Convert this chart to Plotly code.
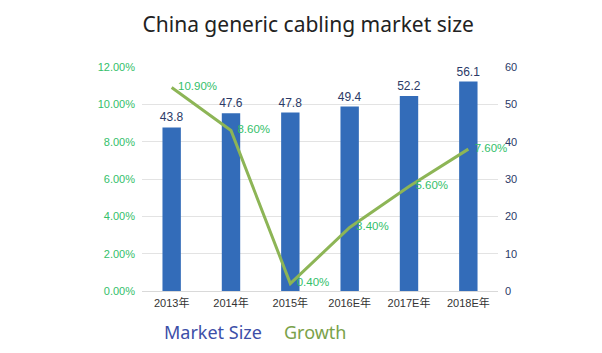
import plotly.graph_objects as go

categories = ["2013年", "2014年", "2015年", "2016E年", "2017E年", "2018E年"]
market_size = [43.8, 47.6, 47.8, 49.4, 52.2, 56.1]
growth = [10.9, 8.6, 0.4, 3.4, 5.6, 7.6]
growth_labels = ["10.90%", "8.60%", "0.40%", "3.40%", "5.60%", "7.60%"]
left_ticks = [0, 2, 4, 6, 8, 10, 12]
left_tick_text = ["0.00%", "2.00%", "4.00%", "6.00%", "8.00%", "10.00%", "12.00%"]
right_ticks = [0, 10, 20, 30, 40, 50, 60]

font_base = "Liberation Sans, Arial, Noto Sans CJK SC, sans-serif"
font_title = "Noto Sans, Open Sans, sans-serif"

fig = go.Figure()
# bars on the base (right-side) axis
fig.add_trace(go.Bar(
    x=categories, y=market_size, yaxis="y",
    marker=dict(color="#336cb9", line=dict(width=0)),
    width=0.31,
    text=[f"{v:.1f}" for v in market_size], textposition="outside",
    constraintext="none",
    textfont=dict(color="#2b3a67", size=12, family=font_base),
    cliponaxis=False, showlegend=False,
))
# growth line on overlaying (left-side) axis, drawn above bars
fig.add_trace(go.Scatter(
    x=categories, y=growth, yaxis="y2", mode="lines+text",
    line=dict(color="#8db556", width=3),
    text=["\u00a0\u00a0" + t for t in growth_labels], textposition="middle right",
    textfont=dict(color="#33c06a", size=11.5, family=font_base),
    cliponaxis=False, showlegend=False,
))

pl, pr, pt, pb = 142, 104, 67, 62
pw, ph = 602 - pl - pr, 353 - pt - pb

def px_ann(text, x, y, color):
    return dict(text=text, xref="paper", yref="paper",
                x=(x - pl) / pw, y=(353 - pb - y) / ph,
                xanchor="left", yanchor="middle", showarrow=False,
                font=dict(size=18, color=color, family=font_title))

fig.update_layout(
    width=602, height=353,
    margin=dict(l=pl, r=pr, t=pt, b=pb),
    paper_bgcolor="white", plot_bgcolor="white",
    title=dict(text="China generic cabling market size", x=0.512, xanchor="center",
               y=0.93, yanchor="middle",
               font=dict(size=21, color="#222222", family=font_title)),
    xaxis=dict(type="category", showgrid=False,
               tickfont=dict(size=11, color="#333333", family=font_base),
               showline=True, linecolor="#d9d9d9", ticks="", ticklabelstandoff=2),
    yaxis=dict(range=[0, 60], tickvals=right_ticks, side="right",
               tickfont=dict(size=11, color="#2b3a67", family=font_base),
               showgrid=True, gridcolor="#e3e3e3", zeroline=False, ticklabelstandoff=6),
    yaxis2=dict(range=[0, 12], tickvals=left_ticks, ticktext=left_tick_text,
                overlaying="y", side="left",
                tickfont=dict(size=11, color="#33c06a", family=font_base),
                showgrid=False, zeroline=False, ticklabelstandoff=6),
    annotations=[
        px_ann("Market Size", 162, 332, "#3d4fa8"),
        px_ann("Growth", 282, 332, "#7aa24a"),
    ],
)

fig.write_html("out.html")
